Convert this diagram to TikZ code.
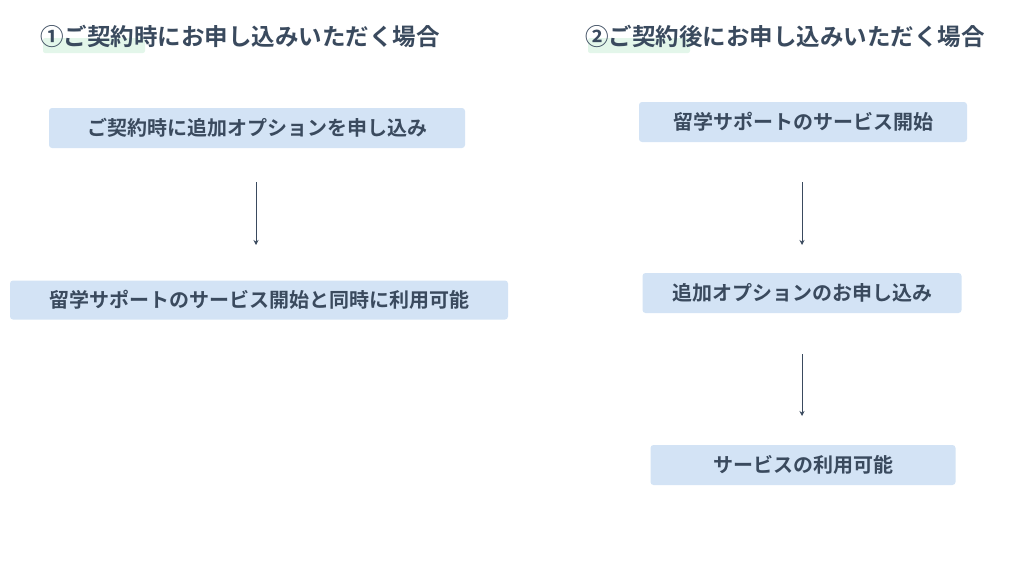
\documentclass[tikz,border=0pt]{standalone}
\usepackage{fontspec}
\usetikzlibrary{arrows.meta}
\newfontfamily\jp{Noto Sans CJK JP Bold}
\definecolor{txt}{HTML}{3A4A5E}
\definecolor{boxc}{HTML}{D3E3F5}
\definecolor{hl}{HTML}{E3F6EA}
\begin{document}
\begin{tikzpicture}[x=1pt,y=-1pt,
 stepbox/.style={fill=boxc,rounded corners=3pt,inner sep=0pt,text=txt,font=\jp\fontsize{20}{24}\selectfont},
 ttl/.style={text=txt,font=\jp\fontsize{23.5}{28}\selectfont,inner sep=0pt},
 arr/.style={draw=txt,line width=1pt,-{Stealth[length=5pt,width=5pt]}}]
\useasboundingbox (0,0) rectangle (1024,576);
\fill[hl,rounded corners=2pt] (43,38) rectangle (145,53);
\fill[hl,rounded corners=2pt] (588,38) rectangle (690,53);
\node[ttl] (t1) at (240,36) {①ご契約時にお申し込みいただく場合};
\node[ttl] (t2) at (785,36) {②ご契約後にお申し込みいただく場合};
\node[stepbox,minimum width=416,minimum height=40] (a1) at (257,128) {ご契約時に追加オプションを申し込み};
\node[stepbox,minimum width=498,minimum height=39] (a2) at (259,300) {留学サポートのサービス開始と同時に利用可能};
\node[stepbox,minimum width=328,minimum height=40] (b1) at (803,122) {留学サポートのサービス開始};
\node[stepbox,minimum width=319,minimum height=40] (b2) at (802,293) {追加オプションのお申し込み};
\node[stepbox,minimum width=305,minimum height=40] (b3) at (803,465) {サービスの利用可能};
\coordinate (p1) at (256,182); \coordinate (p2) at (256,245);
\coordinate (q1) at (802,182); \coordinate (q2) at (802,245);
\coordinate (r1) at (802,354); \coordinate (r2) at (802,416);
\draw[arr] (p1) -- (p2);
\draw[arr] (q1) -- (q2);
\draw[arr] (r1) -- (r2);
\end{tikzpicture}
\end{document}
